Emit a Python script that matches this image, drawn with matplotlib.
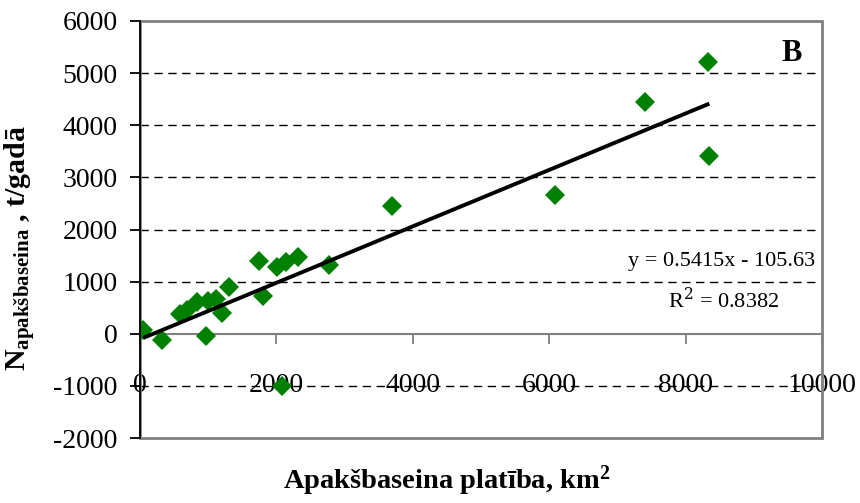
import matplotlib.pyplot as plt
from matplotlib.patches import Rectangle

# --- Data: sub-basin area (km2) vs N load (t/year) ---
area_km2 = [48, 318, 963, 590, 690, 840, 1000, 1110, 1200, 1310,
            1745, 1799, 2004, 2141, 2322, 2776, 2077, 3690, 6085, 7405, 8324, 8348]
n_load = [76, -115, -51, 380, 460, 600, 620, 660, 390, 905,
          1402, 727, 1287, 1383, 1478, 1319, -1007, 2453, 2671, 4442, 5207, 3409]

# linear trend (Excel fit)
slope = 0.5415
intercept = -105.63
r2 = 0.8382

x_ticks = [0, 2000, 4000, 6000, 8000, 10000]
y_ticks = [-2000, -1000, 0, 1000, 2000, 3000, 4000, 5000, 6000]

# --- Styling ---
plt.rcParams.update({
    'font.family': 'Liberation Serif',
    'axes.unicode_minus': False,
    'mathtext.fontset': 'custom',
    'mathtext.rm': 'Liberation Serif:bold',
    'mathtext.bf': 'Liberation Serif:bold',
    'mathtext.it': 'Liberation Serif:bold',
})
grey = '#808080'
tick_fs = 20
lbl_fs = 20.5

fig = plt.figure(figsize=(8.6, 5.03), dpi=100)
ax = fig.add_axes([140 / 860, 1 - 438 / 503, 682 / 860, 417 / 503])

ax.set_xlim(0, 10000)
ax.set_ylim(-2000, 6000)

# dashed horizontal gridlines
for yv in y_ticks:
    if yv not in (-2000, 0, 6000):
        ax.axhline(yv, color='black', lw=1.0, ls=(0, (6, 4)), zorder=1)

# points and trend line
ax.plot(area_km2, n_load, ls='none', marker='D', ms=10.2, color='#008000',
        markeredgewidth=0, zorder=3)
x0, x1 = min(area_km2), max(area_km2)
ax.plot([x0, x1], [slope * x0 + intercept, slope * x1 + intercept],
        color='black', lw=2.8, zorder=4, solid_capstyle='butt')

# axes: y axis black on the left, x axis crossing at zero
for side in ('top', 'right'):
    ax.spines[side].set_visible(False)
ax.spines['bottom'].set_position(('data', 0))
ax.spines['bottom'].set_color(grey)
ax.spines['bottom'].set_linewidth(1.5)
ax.spines['left'].set_color('black')
ax.spines['left'].set_linewidth(1.3)
ax.spines['left'].set_zorder(5)
ax.add_patch(Rectangle((0, 0), 1, 1, transform=ax.transAxes, fill=False,
                       edgecolor=grey, lw=2, clip_on=False, zorder=2))

ax.set_xticks(x_ticks)
ax.set_yticks(y_ticks)
ax.tick_params(axis='x', direction='out', length=7, width=1.3, color=grey,
               labelsize=tick_fs, pad=21)
ax.tick_params(axis='y', direction='out', length=7, width=1.3, color='black',
               labelsize=tick_fs, pad=9)

ax.set_xlabel(r'Apakšbaseina platība, km$^{\mathbf{2}}$', fontsize=lbl_fs,
              fontweight='bold')
ax.xaxis.set_label_coords(0.449, -0.06)
ax.set_ylabel(r'N$_{\mathrm{apakšbaseina}}$ , t/gadā', fontsize=lbl_fs + 1,
              fontweight='bold')
ax.yaxis.set_label_coords(-0.15, 0.455)

ax.text(0.955, 0.922, 'B', transform=ax.transAxes, ha='center', va='center',
        fontsize=22, fontweight='bold')
ax.text(0.99, 0.423, f'y = {slope}x - {abs(intercept)}', transform=ax.transAxes,
        ha='right', va='center', fontsize=16)
ax.text(0.855, 0.33, f'R$^{{2}}$ = {r2}', transform=ax.transAxes,
        ha='center', va='center', fontsize=16, math_fontfamily='dejavuserif')

fig.savefig('out.png', dpi=100)
